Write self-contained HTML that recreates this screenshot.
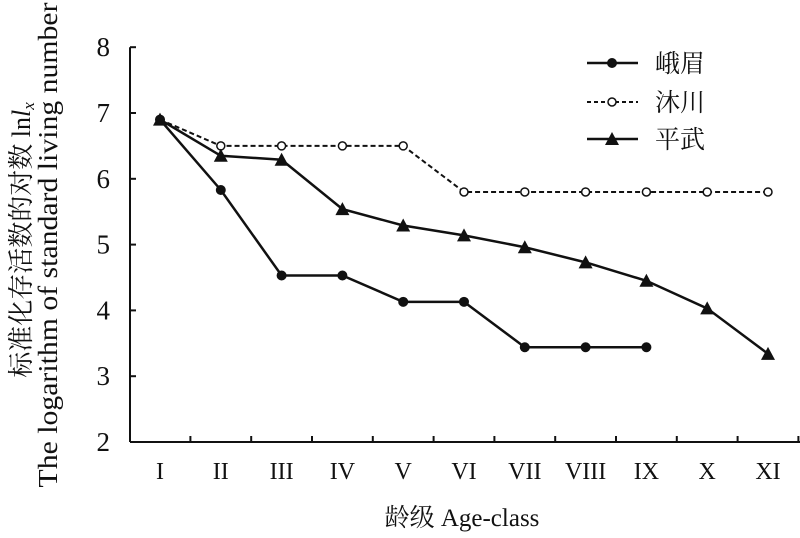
<!DOCTYPE html>
<html><head><meta charset="utf-8"><style>
body{margin:0;background:#fff}
svg text{font-family:"Liberation Serif","Noto Serif CJK SC","Noto Sans CJK SC",serif;fill:#111}
</style></head><body>
<svg id="chart" width="800" height="533" viewBox="0 0 800 533" xmlns="http://www.w3.org/2000/svg">
<g id="axes"></g>
<g id="series"></g>
<g id="legend">
  <line x1="587" y1="63" x2="638" y2="63" stroke="#111" stroke-width="2.5"/>
  <circle cx="612" cy="63" r="5" fill="#111"/>
  <text x="655" y="72" font-size="25">峨眉</text>
  <line x1="587" y1="102" x2="638" y2="102" stroke="#111" stroke-width="2" stroke-dasharray="4,3"/>
  <circle cx="612" cy="102" r="4" fill="#fff" stroke="#111" stroke-width="1.5"/>
  <text x="655" y="111" font-size="25">沐川</text>
  <line x1="587" y1="139" x2="638" y2="139" stroke="#111" stroke-width="2.5"/>
  <polygon points="612,132 619,145 605,145" fill="#111"/>
  <text x="655" y="148" font-size="25">平武</text>
</g>
<text transform="translate(30,240) rotate(-90)" text-anchor="middle" font-size="26">标准化存活数的对数 ln<tspan font-style="italic">l</tspan><tspan font-style="italic" font-size="17" dy="4">x</tspan></text>
<text transform="translate(57,245) rotate(-90)" text-anchor="middle" font-size="27" textLength="485" lengthAdjust="spacingAndGlyphs">The logarithm of standard living number</text>
<text x="462" y="526" text-anchor="middle" font-size="25">龄级 Age-class</text>
</svg>
<script>
const categories=["I","II","III","IV","V","VI","VII","VIII","IX","X","XI"];
const yTicks=[2,3,4,5,6,7,8];
const emei=[6.9,5.83,4.53,4.53,4.13,4.13,3.44,3.44,3.44];
const muchuan=[6.9,6.5,6.5,6.5,6.5,5.8,5.8,5.8,5.8,5.8,5.8];
const pingwu=[6.9,6.35,6.29,5.54,5.29,5.14,4.96,4.73,4.45,4.03,3.34];
const NS="http://www.w3.org/2000/svg";
const X=i=>160+i*60.8;
const Y=v=>442-(v-2)*65.8;
function mk(tag,attrs,parent){const e=document.createElementNS(NS,tag);for(const k in attrs)e.setAttribute(k,attrs[k]);parent.appendChild(e);return e;}
const ax=document.getElementById('axes');
let l=mk('line',{x1:130,y1:Y(8),x2:130,y2:442,stroke:'#111','stroke-width':2},ax);


l=mk('line',{x1:130,y1:442,x2:800,y2:442,stroke:'#111','stroke-width':2},ax);


yTicks.forEach(t=>{
 mk('line',{x1:130,y1:Y(t),x2:136,y2:Y(t),stroke:'#111','stroke-width':2},ax);
 const tx=mk('text',{x:110,y:Y(t)+9,'text-anchor':'end','font-size':27},ax);
 tx.textContent=t;
 
 
});
categories.forEach((c,i)=>{
 mk('line',{x1:X(i)+30.4,y1:442,x2:X(i)+30.4,y2:436,stroke:'#111','stroke-width':2},ax);
 const tx=mk('text',{x:X(i),y:479,'text-anchor':'middle','font-size':24},ax);
 tx.textContent=c;
 
 
});
const sg=document.getElementById('series');
function draw(vals,name,dash,marker){
 const p=mk('polyline',{points:vals.map((v,i)=>X(i)+','+Y(v)).join(' '),fill:'none',stroke:'#111','stroke-width':dash?2:2.5,'stroke-dasharray':dash?'5,3':'none'},sg);
 
 
 vals.forEach((v,i)=>{
  let m;
  if(marker==='circle')m=mk('circle',{cx:X(i),cy:Y(v),r:5,fill:'#111'},sg);
  else if(marker==='open')m=mk('circle',{cx:X(i),cy:Y(v),r:4,fill:'#fff',stroke:'#111','stroke-width':1.5},sg);
  else m=mk('polygon',{points:`${X(i)},${Y(v)-7} ${X(i)+7},${Y(v)+6} ${X(i)-7},${Y(v)+6}`,fill:'#111'},sg);
  
  
 });
}
draw(muchuan,'muchuan',true,'open');
draw(pingwu,'pingwu',false,'tri');
draw(emei,'emei',false,'circle');
</script>
</body></html>
